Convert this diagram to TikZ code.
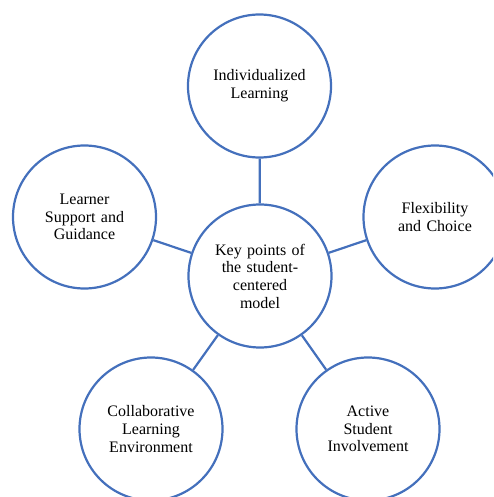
\documentclass[tikz,border=0pt]{standalone}
\usepackage{fontspec}
\setmainfont{Liberation Serif}
\definecolor{ringblue}{HTML}{4470BC}

\tikzset{
  kpnode/.style = {circle, draw=ringblue, line width=2.2pt, minimum size=143pt,
    inner sep=0pt, text width=110pt, align=center,
    font=\fontsize{16}{17.7}\selectfont},% cercle d'un point cle
  kp_link/.style = {draw=ringblue, line width=2.2pt}% rayon vers le centre
}

\begin{document}
\begin{tikzpicture}[x=1pt, y=-1pt]
  \useasboundingbox (0,0) rectangle (493,497);
  \clip (0,0) rectangle (493,497);
  \node [kpnode] (hub) at (260,276) {Key points of\\the student-\\centered\\model};
  \node [kpnode] (indiv) at (259.5,86) {Individualized\\Learning};
  \node [kpnode] (flex) at (435,217) {Flexibility\\and Choice};
  \node [kpnode] (support) at (84.5,217) {Learner\\Support and\\Guidance};
  \node [kpnode] (collab) at (151,429) {Collaborative\\Learning\\Environment};
  \node [kpnode] (active) at (368,429) {Active\\Student\\Involvement};
  \foreach \kp in {indiv,flex,active,collab,support}
    \draw [kp_link] (hub) -- (\kp);
\end{tikzpicture}
\end{document}
